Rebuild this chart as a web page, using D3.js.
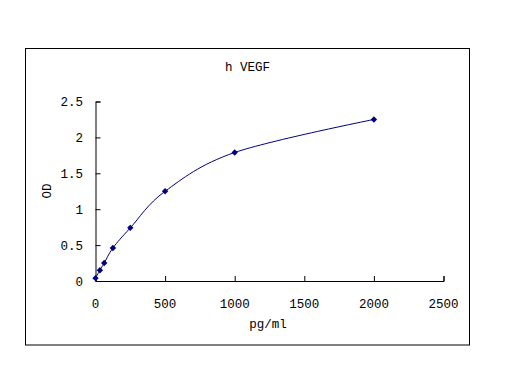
<!DOCTYPE html>
<html>
<head>
<meta charset="utf-8">
<script src="https://cdn.jsdelivr.net/npm/d3@7"></script>
<style>
  body { margin: 0; background: #fff; }
  text { font-family: "Liberation Mono", "DejaVu Sans Mono", monospace; font-size: 12.5px; fill: #000; }
</style>
</head>
<body>
<script>
// standard curve data
var conc = [0, 31.25, 62.5, 125, 250, 500, 1000, 2000];
var od = [0.04, 0.15, 0.25, 0.46, 0.74, 1.25, 1.79, 2.25];
var xTicks = [0, 500, 1000, 1500, 2000, 2500];
var yTicks = [0, 0.5, 1, 1.5, 2, 2.5];
var title = "h VEGF";
var xLabel = "pg/ml";
var yLabel = "OD";

var width = 512, height = 384;
var svg = d3.select("body").append("svg")
    .attr("width", width)
    .attr("height", height);

svg.append("rect")
    .attr("width", width).attr("height", height)
    .attr("fill", "#fff");

// outer chart frame
svg.append("rect")
    .attr("x", 25.5).attr("y", 48.5)
    .attr("width", 444).attr("height", 296.5)
    .attr("fill", "none")
    .attr("stroke", "#000")
    .attr("stroke-width", 1);

var x = d3.scaleLinear().domain([0, 2500]).range([95.5, 443.5]);
var y = d3.scaleLinear().domain([0, 2.5]).range([281, 101.5]);

var xAxis = svg.append("g")
    .attr("transform", "translate(0,281)")
    .call(d3.axisTop(x).tickValues(xTicks).tickSize(5).tickFormat(""));
var yAxis = svg.append("g")
    .attr("transform", "translate(95.5,0)")
    .call(d3.axisRight(y).tickValues(yTicks).tickSize(5).tickFormat(""));
svg.selectAll(".domain").attr("stroke", "#000");
svg.selectAll(".tick line").attr("stroke", "#000");

// tick labels
svg.selectAll(".xlab").data(xTicks).enter().append("text")
    .attr("x", function(d) { return x(d); })
    .attr("y", 308)
    .attr("text-anchor", "middle")
    .text(function(d) { return d; });

svg.selectAll(".ylab").data(yTicks).enter().append("text")
    .attr("x", 83)
    .attr("y", function(d) { return y(d) + 4.5; })
    .attr("text-anchor", "end")
    .text(function(d) { return d; });

svg.append("text")
    .attr("x", 247.5).attr("y", 71)
    .attr("text-anchor", "middle")
    .text(title);

svg.append("text")
    .attr("x", 268).attr("y", 328)
    .attr("text-anchor", "middle")
    .text(xLabel);

svg.append("text")
    .attr("transform", "translate(51,191) rotate(-90)")
    .attr("text-anchor", "middle")
    .text(yLabel);

var pts = conc.map(function(c, i) { return [c, od[i]]; });

var line = d3.line()
    .x(function(d) { return x(d[0]); })
    .y(function(d) { return y(d[1]); })
    .curve(d3.curveCardinal.tension(0));

svg.append("path")
    .datum(pts)
    .attr("d", line)
    .attr("fill", "none")
    .attr("stroke", "#000080")
    .attr("stroke-width", 1);

svg.selectAll(".pt").data(pts).enter().append("path")
    .attr("d", d3.symbol().type(d3.symbolDiamond2).size(26))
    .attr("transform", function(d) { return "translate(" + x(d[0]) + "," + y(d[1]) + ")"; })
    .attr("fill", "#000080");
</script>
</body>
</html>
